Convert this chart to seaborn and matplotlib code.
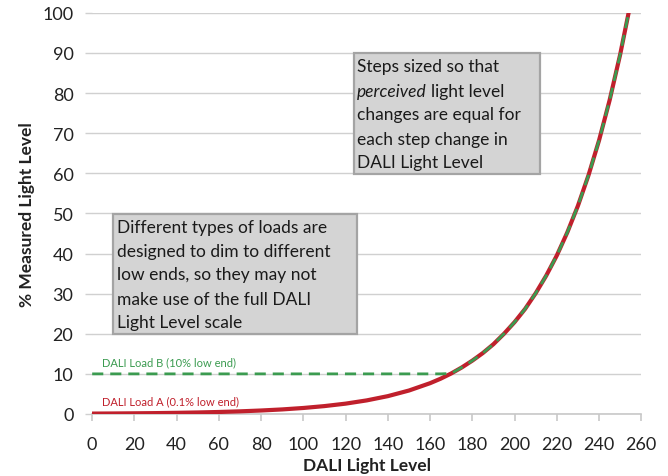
import pandas as pd
import matplotlib.pyplot as plt
import seaborn as sb
from matplotlib.patches import Rectangle

# values
dali_level = [0, 10, 20, 30, 40, 50, 60, 70, 80, 90, 100, 110, 120, 130, 140, 150,
              160, 165, 170, 175, 180, 185, 190, 195, 200, 205, 210, 215, 220, 225,
              230, 235, 240, 245, 250, 254]
load_a = [0.1, 0.13, 0.17, 0.22, 0.29, 0.38, 0.5, 0.66, 0.87, 1.14, 1.5, 1.97, 2.58,
          3.39, 4.45, 5.85, 7.68, 8.8, 10.1, 11.6, 13.3, 15.2, 17.4, 20.0, 22.9, 26.2,
          30.1, 34.5, 39.5, 45.3, 51.9, 59.5, 68.2, 78.2, 89.6, 100.0]
load_b = [10, 10, 10, 10, 10, 10, 10, 10, 10, 10, 10, 10, 10, 10, 10, 10,
          10, 10, 10.1, 11.6, 13.3, 15.2, 17.4, 20.0, 22.9, 26.2,
          30.1, 34.5, 39.5, 45.3, 51.9, 59.5, 68.2, 78.2, 89.6, 100.0]
x_ticks = list(range(0, 261, 20))
y_ticks = list(range(0, 101, 10))

df = pd.DataFrame({'level': dali_level, 'A': load_a, 'B': load_b})

sb.set_style("white")
plt.rcParams['font.family'] = ['Lato', 'DejaVu Sans']

fig = plt.figure(figsize=(6.68, 4.77), dpi=100)
ax = fig.add_axes([0.138, 0.130, 0.822, 0.841])

red = '#c0202c'
green = '#3b9b50'
sb.lineplot(data=df, x='level', y='A', color=red, linewidth=3.0, ax=ax, zorder=3)
sb.lineplot(data=df, x='level', y='B', color=green, linewidth=2.0, ax=ax, zorder=4,
            linestyle=(0, (4, 2.5)))

ax.set_xlim(0, 260)
ax.set_ylim(0, 100)
ax.set_xticks(x_ticks)
ax.set_yticks(y_ticks)
ax.yaxis.grid(True, color='#d0d0d0', linewidth=1)
ax.xaxis.grid(False)
for s in ['left', 'top', 'right']:
    ax.spines[s].set_visible(False)
ax.spines['bottom'].set_color('#c8c8c8')
ax.spines['bottom'].set_linewidth(1.2)
ax.tick_params(axis='x', length=5, color='#c8c8c8', width=1.2, labelsize=13,
               labelcolor='#222222', pad=11, bottom=True)
ax.tick_params(axis='y', length=5, color='#d0d0d0', width=1, labelsize=13,
               labelcolor='#222222', pad=8.5, left=True)
ax.set_xlabel('DALI Light Level', fontsize=12.5, fontweight='bold', color='#222222')
ax.set_ylabel('% Measured Light Level', fontsize=12.5, fontweight='bold', color='#222222')
ax.xaxis.set_label_coords(0.5, -0.108)
ax.yaxis.set_label_coords(-0.104, 0.5)

# annotation boxes
box_kw = dict(facecolor='#d4d4d4', edgecolor='#a4a4a4', linewidth=1.6, zorder=5)
ax.add_patch(Rectangle((124.1, 59.9), 88.1, 30.1, **box_kw))
ax.add_patch(Rectangle((9.9, 20.0), 115.6, 29.9, **box_kw))

txt = dict(fontsize=12.5, color='#1a1a1a', va='center', ha='left', zorder=6)
ax.text(125.5, 86.8, 'Steps sized so that', **txt)
t = ax.text(125.5, 80.6, 'perceived', style='italic', **txt)
ax.annotate('light level', xy=(1, 0), xycoords=t, xytext=(3, 0), textcoords='offset points',
            va='bottom', ha='left', fontsize=12.5, color='#1a1a1a', zorder=6)
ax.text(125.5, 74.8, 'changes are equal for', **txt)
ax.text(125.5, 68.6, 'each step change in', **txt)
ax.text(125.5, 62.8, 'DALI Light Level', **txt)

lines2 = ['Different types of loads are', 'designed to dim to different',
          'low ends, so they may not', 'make use of the full DALI', 'Light Level scale']
ys2 = [46.6, 40.6, 35.0, 28.7, 22.9]
for s, y in zip(lines2, ys2):
    ax.text(11.8, y, s, **txt)

ax.text(4.7, 13.0, 'DALI Load B (10% low end)', fontsize=8, color=green, va='center', ha='left')
ax.text(4.7, 3.2, 'DALI Load A (0.1% low end)', fontsize=8, color=red, va='center', ha='left')

fig.savefig('out.png', dpi=100)
